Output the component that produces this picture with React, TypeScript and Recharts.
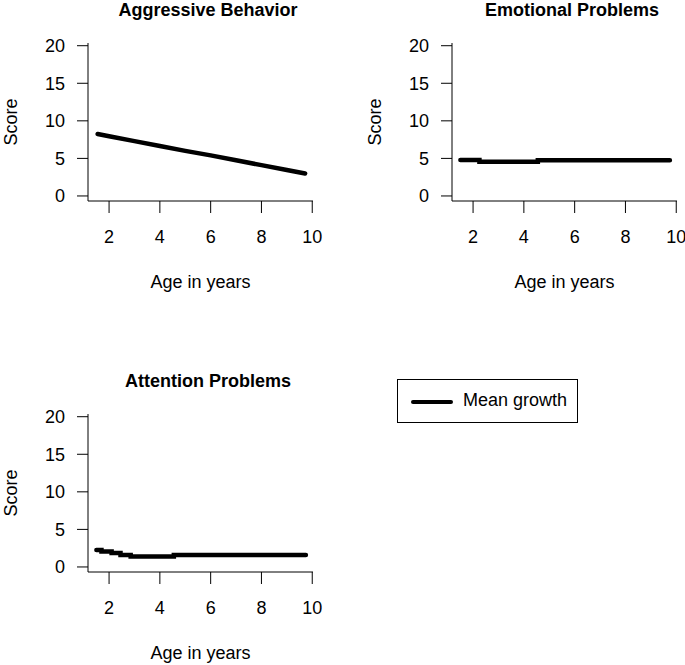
import React from 'react';
import { LineChart, Line, XAxis, YAxis, Legend } from 'recharts';

// mean growth curves
const aggAge = [1.55, 2, 3, 4, 5, 6, 7, 8, 9, 9.72];
const aggScore = [8.25, 7.95, 7.3, 6.65, 6.0, 5.4, 4.75, 4.1, 3.45, 3.0];

const emoAge = [1.5, 2.25, 2.25, 4.55, 4.55, 9.75];
const emoScore = [4.8, 4.8, 4.55, 4.55, 4.75, 4.75];

const attAge = [1.5, 1.7, 1.7, 2.1, 2.1, 2.45, 2.45, 2.85, 2.85, 4.55, 4.55, 9.75];
const attScore = [2.25, 2.25, 2.05, 2.05, 1.85, 1.85, 1.6, 1.6, 1.4, 1.4, 1.6, 1.6];

const ageTicks = [2, 4, 6, 8, 10];
const scoreTicks = [0, 5, 10, 15, 20];

const FONT = '"Liberation Sans", Arial, sans-serif';

const toRows = (ages: number[], scores: number[]) =>
  ages.map((age, i) => ({ age, score: scores[i] }));

const ScoreLabel = (props: any) => {
  const vb = props.viewBox || { y: 0, height: 0 };
  const cy = vb.y + vb.height / 2;
  return (
    <text
      x={11}
      y={cy}
      transform={`rotate(-90, 11, ${cy})`}
      textAnchor="middle"
      dominantBaseline="central"
      fontSize={18}
      fontFamily={FONT}
      fill="#000"
    >
      Score
    </text>
  );
};

const LegendBox = (props: any) => {
  const item = (props.payload && props.payload[0]) || { value: 'Mean growth' };
  return (
    <div
      style={{
        width: 181,
        height: 44,
        border: '1px solid #000',
        boxSizing: 'border-box',
        background: '#fff',
        position: 'relative',
        fontFamily: FONT,
        fontSize: 18,
      }}
    >
      <svg width={60} height={42} style={{ position: 'absolute', left: 0, top: 0 }}>
        <line x1={15} y1={22} x2={53} y2={22} stroke="#000" strokeWidth={4} strokeLinecap="round" />
      </svg>
      <span style={{ position: 'absolute', left: 65, top: 10, lineHeight: '20px', color: '#000' }}>
        {item.value}
      </span>
    </div>
  );
};

interface PanelProps {
  title: string;
  ages: number[];
  scores: number[];
  left: number;
  top: number;
  withLegend?: boolean;
}

const Panel = ({ title, ages, scores, left, top, withLegend }: PanelProps) => {
  const data = toRows(ages, scores);
  const width = withLegend ? 685 : 330;
  return (
    <div style={{ position: 'absolute', left, top, width, height: 300 }}>
      <div
        style={{
          position: 'absolute',
          left: 58,
          top: 1,
          width: 300,
          textAlign: 'center',
          fontFamily: FONT,
          fontWeight: 'bold',
          fontSize: 18,
          lineHeight: '18px',
          color: '#000',
          zIndex: 2,
        }}
      >
        {title}
      </div>
      <LineChart
        width={width}
        height={300}
        data={data}
        margin={{ top: 43, right: width - 313, bottom: 0, left: 0 }}
        style={{ fontFamily: FONT }}
      >
        <XAxis
          dataKey="age"
          type="number"
          domain={[1.17, 10.03]}
          ticks={ageTicks}
          allowDataOverflow
          height={99}
          tickSize={12}
          tickMargin={17}
          axisLine={{ stroke: '#000' }}
          tickLine={{ stroke: '#000' }}
          tick={{ fill: '#000', fontSize: 18 }}
          label={{ value: 'Age in years', position: 'insideBottom', offset: 12, fill: '#000', fontSize: 18 }}
        />
        <YAxis
          type="number"
          domain={[-0.67, 20.36]}
          ticks={scoreTicks}
          allowDataOverflow
          width={88}
          tickSize={11}
          tickMargin={12}
          axisLine={{ stroke: '#000' }}
          tickLine={{ stroke: '#000' }}
          tick={{ fill: '#000', fontSize: 18 }}
          label={<ScoreLabel />}
        />
        {withLegend && (
          <Legend
            layout="horizontal"
            verticalAlign="middle"
            align="center"
            content={<LegendBox />}
            wrapperStyle={{ left: 397, top: 8, width: 181, height: 44 }}
          />
        )}
        <Line
          type="linear"
          dataKey="score"
          name="Mean growth"
          stroke="#000"
          strokeWidth={4.5}
          strokeLinecap="round"
          dot={false}
          activeDot={false}
          isAnimationActive={false}
        />
      </LineChart>
    </div>
  );
};

export default function App() {
  return (
    <div
      style={{
        position: 'absolute',
        left: 0,
        top: 0,
        width: 685,
        height: 665,
        overflow: 'hidden',
        background: '#fff',
      }}
    >
      <Panel title="Aggressive Behavior" ages={aggAge} scores={aggScore} left={0} top={0} />
      <Panel title="Emotional Problems" ages={emoAge} scores={emoScore} left={364} top={0} />
      <Panel title="Attention Problems" ages={attAge} scores={attScore} left={0} top={371} withLegend />
    </div>
  );
}
